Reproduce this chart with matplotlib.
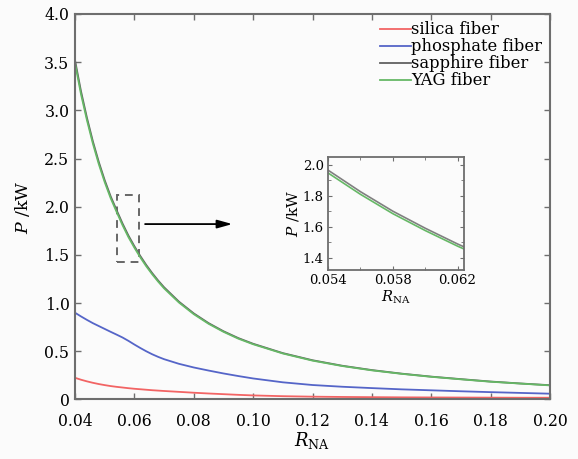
import matplotlib
matplotlib.use("Agg")
import matplotlib.pyplot as plt
from matplotlib.patches import Rectangle
from matplotlib.ticker import MultipleLocator

# numerical aperture
r_na = [0.040, 0.042, 0.044, 0.046, 0.048, 0.050, 0.052, 0.054, 0.056, 0.058,
        0.060, 0.062, 0.064, 0.066, 0.068, 0.070, 0.075, 0.080, 0.085, 0.090,
        0.095, 0.100, 0.110, 0.120, 0.130, 0.140, 0.150, 0.160, 0.170, 0.180,
        0.190, 0.200]

# power threshold in kW for each fiber
silica = [0.225, 0.205, 0.188, 0.173, 0.160, 0.149, 0.139, 0.131, 0.124, 0.117,
          0.111, 0.106, 0.101, 0.096, 0.092, 0.088, 0.079, 0.070, 0.062, 0.055,
          0.048, 0.042, 0.034, 0.029, 0.026, 0.024, 0.022, 0.021, 0.020, 0.019,
          0.018, 0.018]
phosphate = [0.900, 0.862, 0.826, 0.792, 0.762, 0.732, 0.702, 0.673, 0.643, 0.608,
             0.570, 0.534, 0.500, 0.469, 0.442, 0.418, 0.370, 0.332, 0.300, 0.270,
             0.243, 0.218, 0.178, 0.150, 0.132, 0.118, 0.105, 0.095, 0.085, 0.076,
             0.068, 0.060]
sapphire = [3.520, 3.200, 2.925, 2.680, 2.465, 2.275, 2.108, 1.965, 1.826, 1.700,
            1.590, 1.488, 1.395, 1.311, 1.234, 1.164, 1.015, 0.893, 0.792, 0.708,
            0.637, 0.578, 0.481, 0.407, 0.350, 0.305, 0.268, 0.237, 0.211, 0.186,
            0.166, 0.148]
yag = [3.490, 3.170, 2.900, 2.657, 2.443, 2.255, 2.089, 1.947, 1.809, 1.684,
       1.575, 1.474, 1.382, 1.299, 1.223, 1.153, 1.006, 0.885, 0.785, 0.702,
       0.631, 0.573, 0.477, 0.403, 0.347, 0.302, 0.266, 0.235, 0.209, 0.184,
       0.165, 0.146]

labels = ["silica fiber", "phosphate fiber", "sapphire fiber", "YAG fiber"]
colors = ["#f26464", "#5565c8", "#606060", "#66b866"]
x_ticks = [0.04, 0.06, 0.08, 0.10, 0.12, 0.14, 0.16, 0.18, 0.20]
y_ticks = [0, 0.5, 1.0, 1.5, 2.0, 2.5, 3.0, 3.5, 4.0]
y_ticklabels = ["0", "0.5", "1.0", "1.5", "2.0", "2.5", "3.0", "3.5", "4.0"]
inset_x_ticks = [0.054, 0.058, 0.062]
inset_y_ticks = [1.4, 1.6, 1.8, 2.0]

plt.rcParams["font.family"] = ["DejaVu Serif"]
plt.rcParams["mathtext.fontset"] = "dejavuserif"

frame = "#6e6e6e"
bg = "#fbfbfb"

fig = plt.figure(figsize=(5.78, 4.59), dpi=100, facecolor=bg)
ax = fig.add_axes([0.1298, 0.1297, 0.8218, 0.8398], facecolor=bg)

series = [silica, phosphate, sapphire, yag]
for vals, lab, col in zip(series, labels, colors):
    ax.plot(r_na, vals, color=col, lw=1.3, label=lab)

ax.set_xlim(0.04, 0.20)
ax.set_ylim(0, 4.0)
ax.set_xticks(x_ticks)
ax.set_xticklabels([f"{v:.2f}" for v in x_ticks])
ax.set_yticks(y_ticks)
ax.set_yticklabels(y_ticklabels)
ax.tick_params(direction="in", length=4, width=1, color=frame, labelsize=11.3,
               top=True, right=True)
ax.tick_params(axis="x", pad=10)
ax.tick_params(axis="y", pad=4)
for s in ax.spines.values():
    s.set_color(frame)
    s.set_linewidth(1.5)

ax.set_xlabel(r"$\mathit{R}_{\mathrm{NA}}$", fontsize=13, labelpad=0)
ax.set_ylabel(r"$\mathit{P}$ /kW", fontsize=12.5, labelpad=9)

leg = ax.legend(loc="upper right", frameon=False, fontsize=11.8,
                handlelength=1.9, handletextpad=0.0, labelspacing=0.0,
                borderaxespad=0.0, bbox_to_anchor=(0.997, 0.998))

# zoomed region marker and arrow
ax.add_patch(Rectangle((0.0540, 1.43), 0.0076, 0.69, fill=False,
                       ls=(0, (4, 3)), lw=1.4, ec="#666666"))
ax.annotate("", xy=(0.0930, 1.82), xytext=(0.0636, 1.82),
            arrowprops=dict(arrowstyle="-|>,head_length=0.9,head_width=0.25",
                            color="black", lw=1.3, shrinkA=0, shrinkB=0))

# inset
ins = fig.add_axes([0.5675, 0.4118, 0.2353, 0.2462], facecolor=bg)
for vals, col in zip([sapphire, yag], ["#808080", colors[3]]):
    ins.plot(r_na, vals, color=col, lw=1.2)
ins.set_xlim(0.054, 0.0624)
ins.set_ylim(1.32, 2.05)
ins.set_xticks(inset_x_ticks)
ins.set_xticklabels([f"{v:.3f}" for v in inset_x_ticks])
ins.set_yticks(inset_y_ticks)
ins.set_yticklabels([f"{v:.1f}" for v in inset_y_ticks])
ins.xaxis.set_minor_locator(MultipleLocator(0.002))
ins.yaxis.set_minor_locator(MultipleLocator(0.1))
ins.tick_params(which="both", direction="in", color=frame, labelsize=9.5,
                top=True, right=True, pad=3)
ins.tick_params(which="major", length=3)
ins.tick_params(which="minor", length=2)
for s in ins.spines.values():
    s.set_color(frame)
    s.set_linewidth(1.3)
ins.set_xlabel(r"$\mathit{R}_{\mathrm{NA}}$", fontsize=10.5, labelpad=1)
ins.set_ylabel(r"$\mathit{P}$ /kW", fontsize=11, labelpad=1)

fig.savefig("out.png", dpi=100, facecolor=bg)
